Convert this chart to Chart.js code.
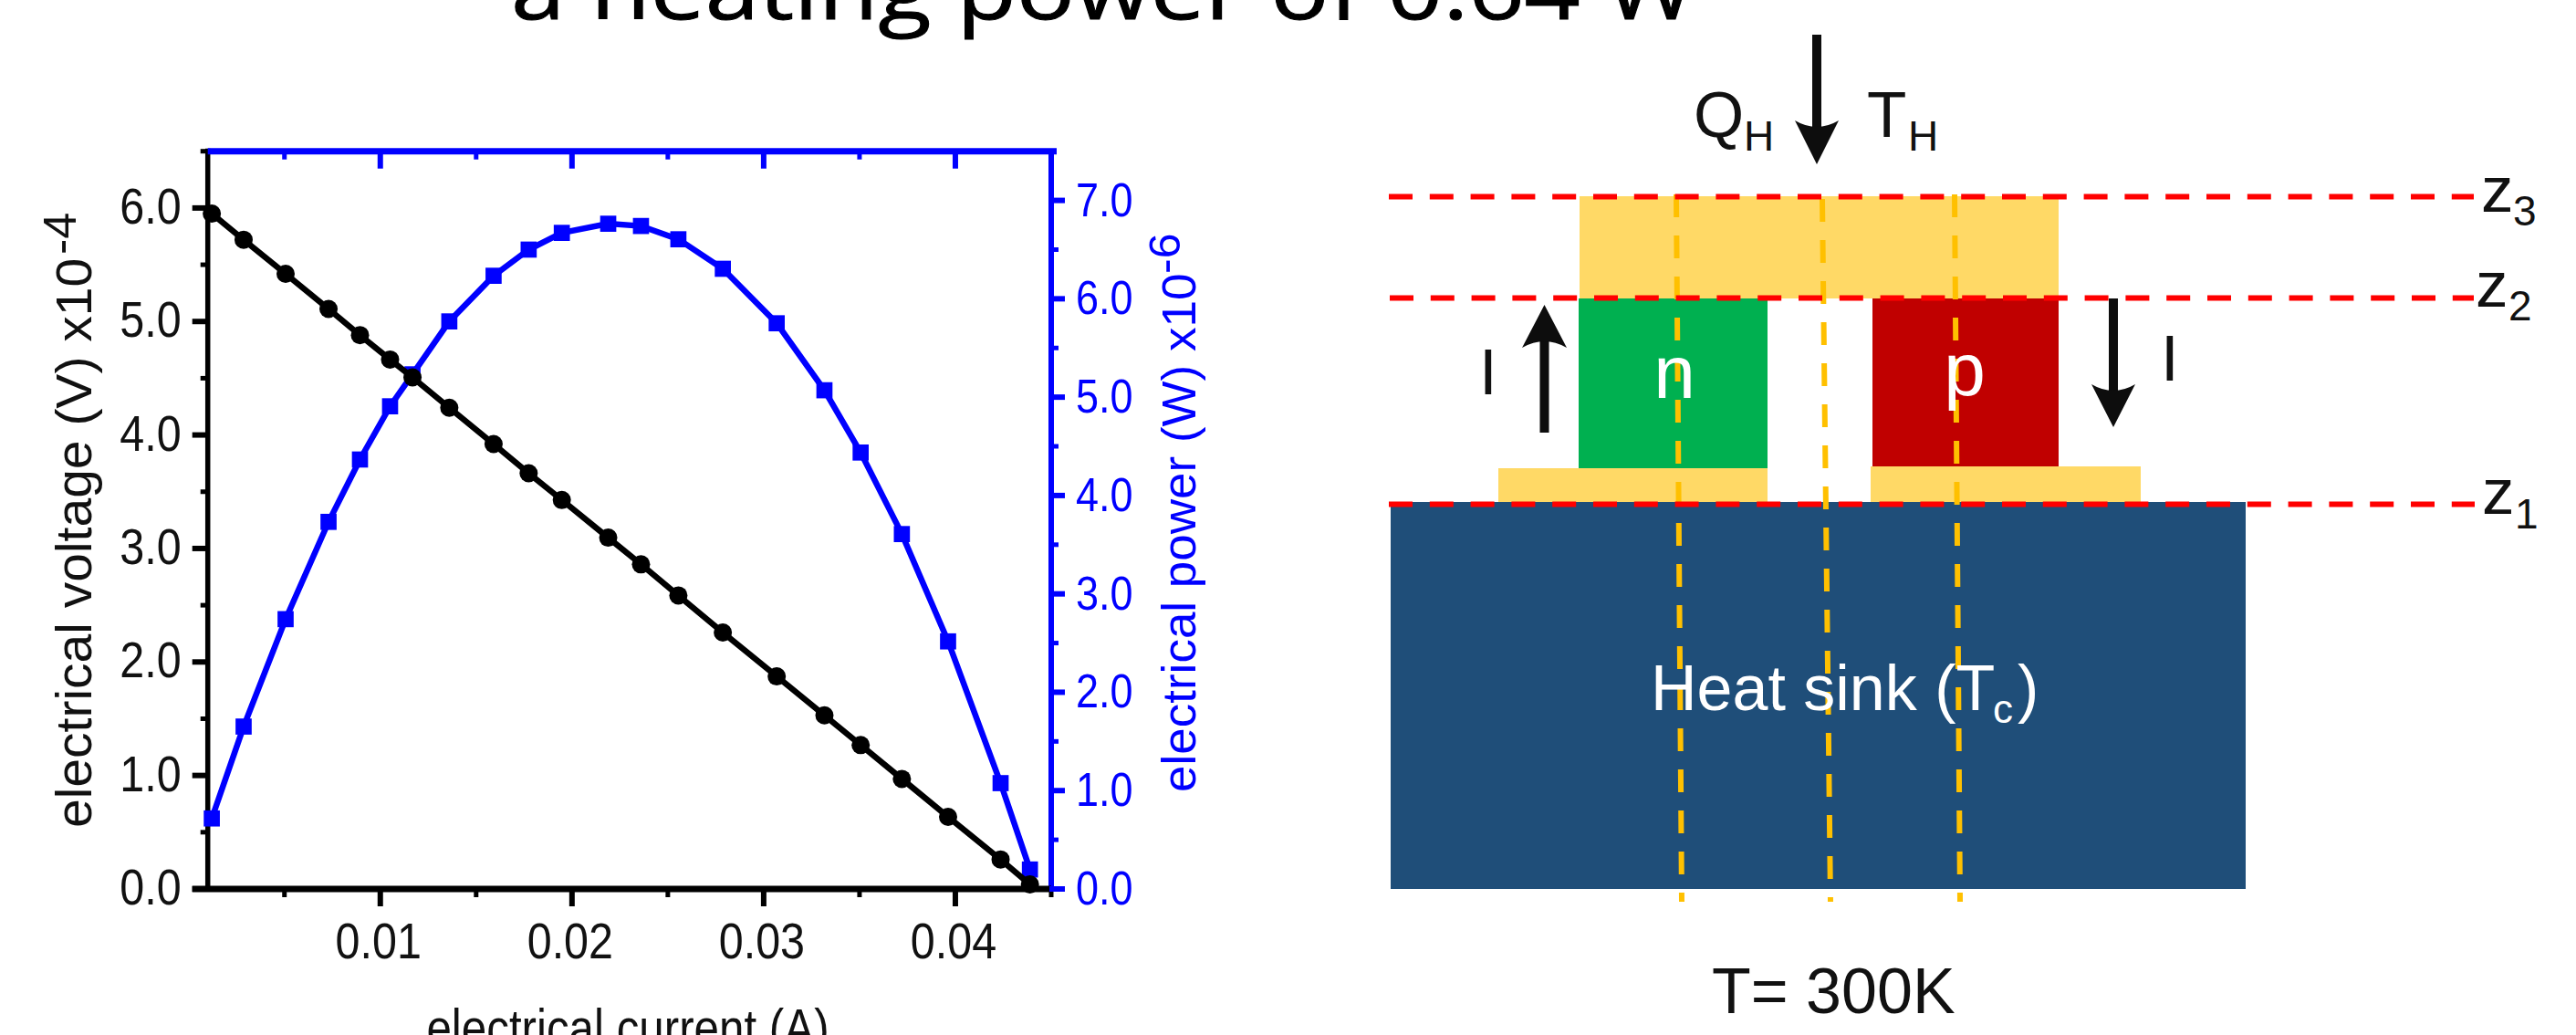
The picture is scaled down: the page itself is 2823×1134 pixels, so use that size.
<!DOCTYPE html>
<html>
<head>
<meta charset="utf-8">
<title>Thermoelectric output</title>
<script src="https://cdn.jsdelivr.net/npm/chart.js@4"></script>
<style>
  html, body { margin: 0; background: #fff; overflow: hidden; }
  #page { position: relative; width: 2823px; height: 1134px; overflow: hidden; }
  #scheme { position: absolute; left: 0; top: 0; }
  #chart { position: absolute; left: 0; top: 0; }
  #scheme text { font-family: "Liberation Sans", Arial, sans-serif; fill: #111; }
  #scheme .title { font-family: "Open Sans", sans-serif; font-size: 92px; fill: #000; stroke: #000; stroke-width: 1; }
  #scheme .big { font-size: 71px; }
  #scheme .sub { font-size: 46px; }
  #scheme .white { fill: #fff; }
  #scheme .red { stroke: #ff0000; stroke-width: 6; stroke-dasharray: 26 18.8; }
  #scheme .gold { stroke: #ffc000; stroke-width: 6; stroke-dasharray: 25 20; fill: none; }
</style>
</head>
<body>
<div id="page">
  <svg id="scheme" width="2823" height="1134">
    <text class="title" x="560" y="21" textLength="1298" lengthAdjust="spacingAndGlyphs">a heating power of 0.64 W</text>

    <rect x="1524" y="550" width="937" height="424" fill="#1f4e79"/>
    <rect x="1642" y="513" width="295" height="37" fill="#ffd966"/>
    <rect x="2050" y="511" width="296" height="39" fill="#ffd966"/>
    <rect x="1731" y="215" width="525" height="112" fill="#ffd966"/>
    <rect x="1730" y="327" width="207" height="186" fill="#00b050"/>
    <rect x="2052" y="327" width="204" height="184" fill="#c00000"/>

    <line class="gold" x1="1837" y1="213" x2="1843" y2="988"/>
    <line class="gold" x1="1997" y1="218" x2="2006" y2="988"/>
    <line class="gold" x1="2142" y1="213" x2="2148" y2="988"/>
    <line class="red" x1="1522" y1="215.5" x2="2711" y2="215.5"/>
    <line class="red" x1="1523" y1="326.5" x2="2711" y2="326.5"/>
    <line class="red" x1="1522" y1="552.5" x2="2712" y2="552.5"/>

    <line x1="1991" y1="38" x2="1991" y2="165" stroke="#0d0d0d" stroke-width="10"/>
    <path d="M1991 180 L1967 132 Q1991 146 2015 132 Z" fill="#0d0d0d"/>
    <line x1="1692.5" y1="474" x2="1692.5" y2="350" stroke="#0d0d0d" stroke-width="10"/>
    <path d="M1692.5 334 L1668 381 Q1692.5 367 1717 381 Z" fill="#0d0d0d"/>
    <line x1="2316" y1="327" x2="2316" y2="452" stroke="#0d0d0d" stroke-width="10"/>
    <path d="M2316 468 L2292 421 Q2316 435 2340 421 Z" fill="#0d0d0d"/>

    <text class="big" x="1856" y="150">Q</text>
    <text class="sub" x="1911" y="165">H</text>
    <text class="big" x="2046" y="150">T</text>
    <text class="sub" x="2091" y="165">H</text>

    <text class="big" x="1621" y="432">I</text>
    <text class="big" x="2368" y="417">I</text>
    <text class="big white" x="1835" y="436" text-anchor="middle" style="font-size:82px">n</text>
    <text class="big white" x="2153" y="433" text-anchor="middle" style="font-size:82px">p</text>

    <text class="big" x="2719" y="232">z</text>
    <text class="sub" x="2754" y="247">3</text>
    <text class="big" x="2713" y="336">z</text>
    <text class="sub" x="2749" y="351">2</text>
    <text class="big" x="2720" y="563">z</text>
    <text class="sub" x="2756" y="579">1</text>

    <text class="big white" x="1809" y="778" style="font-size:70px">Heat sink (T</text>
    <text class="sub white" x="2184" y="792" style="font-size:44px">c</text>
    <text class="big white" x="2211" y="778" style="font-size:70px">)</text>
    <text class="big" x="1876" y="1110" style="font-size:70px">T= 300K</text>
  </svg>
  <canvas id="chart" width="1400" height="1134"></canvas>
</div>

<script>
const current = [0.00121, 0.00287, 0.00506, 0.0073, 0.00894, 0.01051, 0.01168, 0.0136, 0.01591, 0.01774, 0.01947,
  0.02189, 0.0236, 0.02555, 0.02787, 0.03068, 0.03317, 0.03506, 0.03721, 0.03962, 0.04236, 0.04389];
const voltage = [5.95, 5.72, 5.42, 5.11, 4.88, 4.665, 4.507, 4.24, 3.92, 3.663, 3.427,
  3.095, 2.86, 2.586, 2.26, 1.873, 1.53, 1.268, 0.97, 0.635, 0.26, 0.04];
const power = [0.717, 1.651, 2.743, 3.732, 4.366, 4.907, 5.232, 5.77, 6.234, 6.5, 6.67,
  6.763, 6.74, 6.605, 6.305, 5.751, 5.07, 4.437, 3.608, 2.517, 1.076, 0.198];

const sans = '"Liberation Sans", Arial, sans-serif';
const BLUE = "#0000ff";
const BLACK = "#000000";
const INK = "#111111";
const SQUEEZE = 0.865;

function toPoints(ys) {
  return current.map((x, i) => ({ x: x, y: ys[i] }));
}

// origin style frame: long and short ticks, coloured per axis
const frame = {
  id: "frame",
  beforeDatasetsDraw(chart) {
    const { ctx, chartArea: a, scales } = chart;
    ctx.save();

    const hLine = (y, x1, x2, w, c) => { ctx.strokeStyle = c; ctx.lineWidth = w; ctx.beginPath(); ctx.moveTo(x1, y); ctx.lineTo(x2, y); ctx.stroke(); };
    const vLine = (x, y1, y2, w, c) => { ctx.strokeStyle = c; ctx.lineWidth = w; ctx.beginPath(); ctx.moveTo(x, y1); ctx.lineTo(x, y2); ctx.stroke(); };

    scales.y.ticks.forEach(t => {
      const y = scales.y.getPixelForValue(t.value);
      if (t.label !== "") hLine(y, a.left - 17, a.left, 6, BLACK);
      else hLine(y, a.left - 8, a.left, 5, BLACK);
    });
    scales.y2.ticks.forEach(t => {
      if (t.value > 7.01) return;
      const y = scales.y2.getPixelForValue(t.value);
      if (t.label !== "") hLine(y, a.right, a.right + 15, 6, BLUE);
      else hLine(y, a.right, a.right + 8, 5, BLUE);
    });
    scales.x.ticks.forEach(t => {
      if (t.value < 0.002) return;
      const x = scales.x.getPixelForValue(t.value);
      const len = t.label !== "" ? 19 : 9;
      vLine(x, a.bottom, a.bottom + len, t.label !== "" ? 6 : 5, BLACK);
      vLine(x, a.top, a.top + len, t.label !== "" ? 6 : 5, BLUE);
    });

    vLine(a.left, a.top - 3, a.bottom + 3, 5.5, BLACK);
    vLine(a.right, a.top, a.bottom + 3, 6, BLUE);
    hLine(a.bottom, a.left - 17, a.right, 7, BLACK);
    hLine(a.top, a.left, a.right + 6, 7, BLUE);
    hLine(a.bottom, a.right - 2, a.right + 15, 6, BLUE);

    ctx.restore();
  },
  afterDraw(chart) {
    const { ctx, chartArea: a, scales } = chart;
    ctx.save();
    ctx.textBaseline = "alphabetic";

    // the labels in the picture are narrower than the font, so squeeze them sideways
    const narrowText = (x, y, text, size, align, color) => {
      ctx.save();
      ctx.translate(x, y);
      ctx.scale(SQUEEZE, 1);
      ctx.textAlign = align;
      ctx.font = size + "px " + sans;
      ctx.fillStyle = color;
      ctx.fillText(text, 0, 0);
      ctx.restore();
    };

    scales.y.ticks.forEach(t => {
      if (t.label !== "") narrowText(a.left - 29, scales.y.getPixelForValue(t.value) + 17, t.label, 56, "right", INK);
    });
    scales.y2.ticks.forEach(t => {
      if (t.label !== "") narrowText(a.right + 27, scales.y2.getPixelForValue(t.value) + 17, t.label, 52, "left", BLUE);
    });
    scales.x.ticks.forEach(t => {
      if (t.label !== "") narrowText(scales.x.getPixelForValue(t.value) - 2, a.bottom + 76, t.label, 56, "center", INK);
    });
    narrowText(688, 1146, "electrical current (A)", 57, "center", INK);

    const rotated = (x, y, text, size, color) => {
      ctx.save();
      ctx.translate(x, y);
      ctx.rotate(-Math.PI / 2);
      ctx.scale(1, 0.96);
      ctx.textAlign = "left";
      ctx.font = size + "px " + sans;
      ctx.fillStyle = color;
      ctx.fillText(text, 0, 0);
      ctx.restore();
    };
    rotated(100, 907, "electrical voltage (V) x10", 57, INK);
    rotated(83, 279, "-4", 52, INK);
    rotated(1310, 868, "electrical power (W) x10", 53, BLUE);
    rotated(1293, 300, "-6", 50, BLUE);

    ctx.restore();
  }
};

new Chart(document.getElementById("chart"), {
  type: "line",
  data: {
    datasets: [
      {
        label: "electrical voltage",
        data: toPoints(voltage),
        yAxisID: "y",
        borderColor: BLACK,
        backgroundColor: BLACK,
        borderWidth: 6.5,
        pointStyle: "circle",
        pointRadius: 10,
        pointBorderWidth: 0,
        tension: 0,
        clip: false
      },
      {
        label: "electrical power",
        data: toPoints(power),
        yAxisID: "y2",
        borderColor: BLUE,
        backgroundColor: BLUE,
        borderWidth: 6.5,
        pointStyle: "rect",
        pointRadius: 12.5,
        pointBorderWidth: 0,
        tension: 0,
        clip: false
      }
    ]
  },
  options: {
    responsive: false,
    animation: false,
    events: [],
    layout: { padding: { left: 127.7, right: 148, top: 165.7, bottom: 60 } },
    plugins: { legend: { display: false }, tooltip: { enabled: false } },
    scales: {
      x: {
        type: "linear",
        min: 0.001,
        max: 0.045,
        afterFit(s) { s.height = 100; },
        grid: { display: false },
        border: { display: false },
        ticks: {
          display: false,
          stepSize: 0.005,
          autoSkip: false,
          callback: v => (Math.round(v * 1000) % 10 === 0 && v > 0.005 ? v.toFixed(2) : "")
        }
      },
      y: {
        position: "left",
        min: 0,
        max: 6.5,
        afterFit(s) { s.width = 100; },
        grid: { display: false },
        border: { display: false },
        ticks: {
          display: false,
          stepSize: 0.5,
          autoSkip: false,
          callback: v => (Number.isInteger(v) ? v.toFixed(1) : "")
        }
      },
      y2: {
        position: "right",
        min: 0,
        max: 7.5,
        afterFit(s) { s.width = 100; },
        grid: { display: false },
        border: { display: false },
        ticks: {
          display: false,
          stepSize: 0.5,
          autoSkip: false,
          callback: v => (Number.isInteger(v) ? v.toFixed(1) : "")
        }
      }
    }
  },
  plugins: [frame]
});
</script>
</body>
</html>
